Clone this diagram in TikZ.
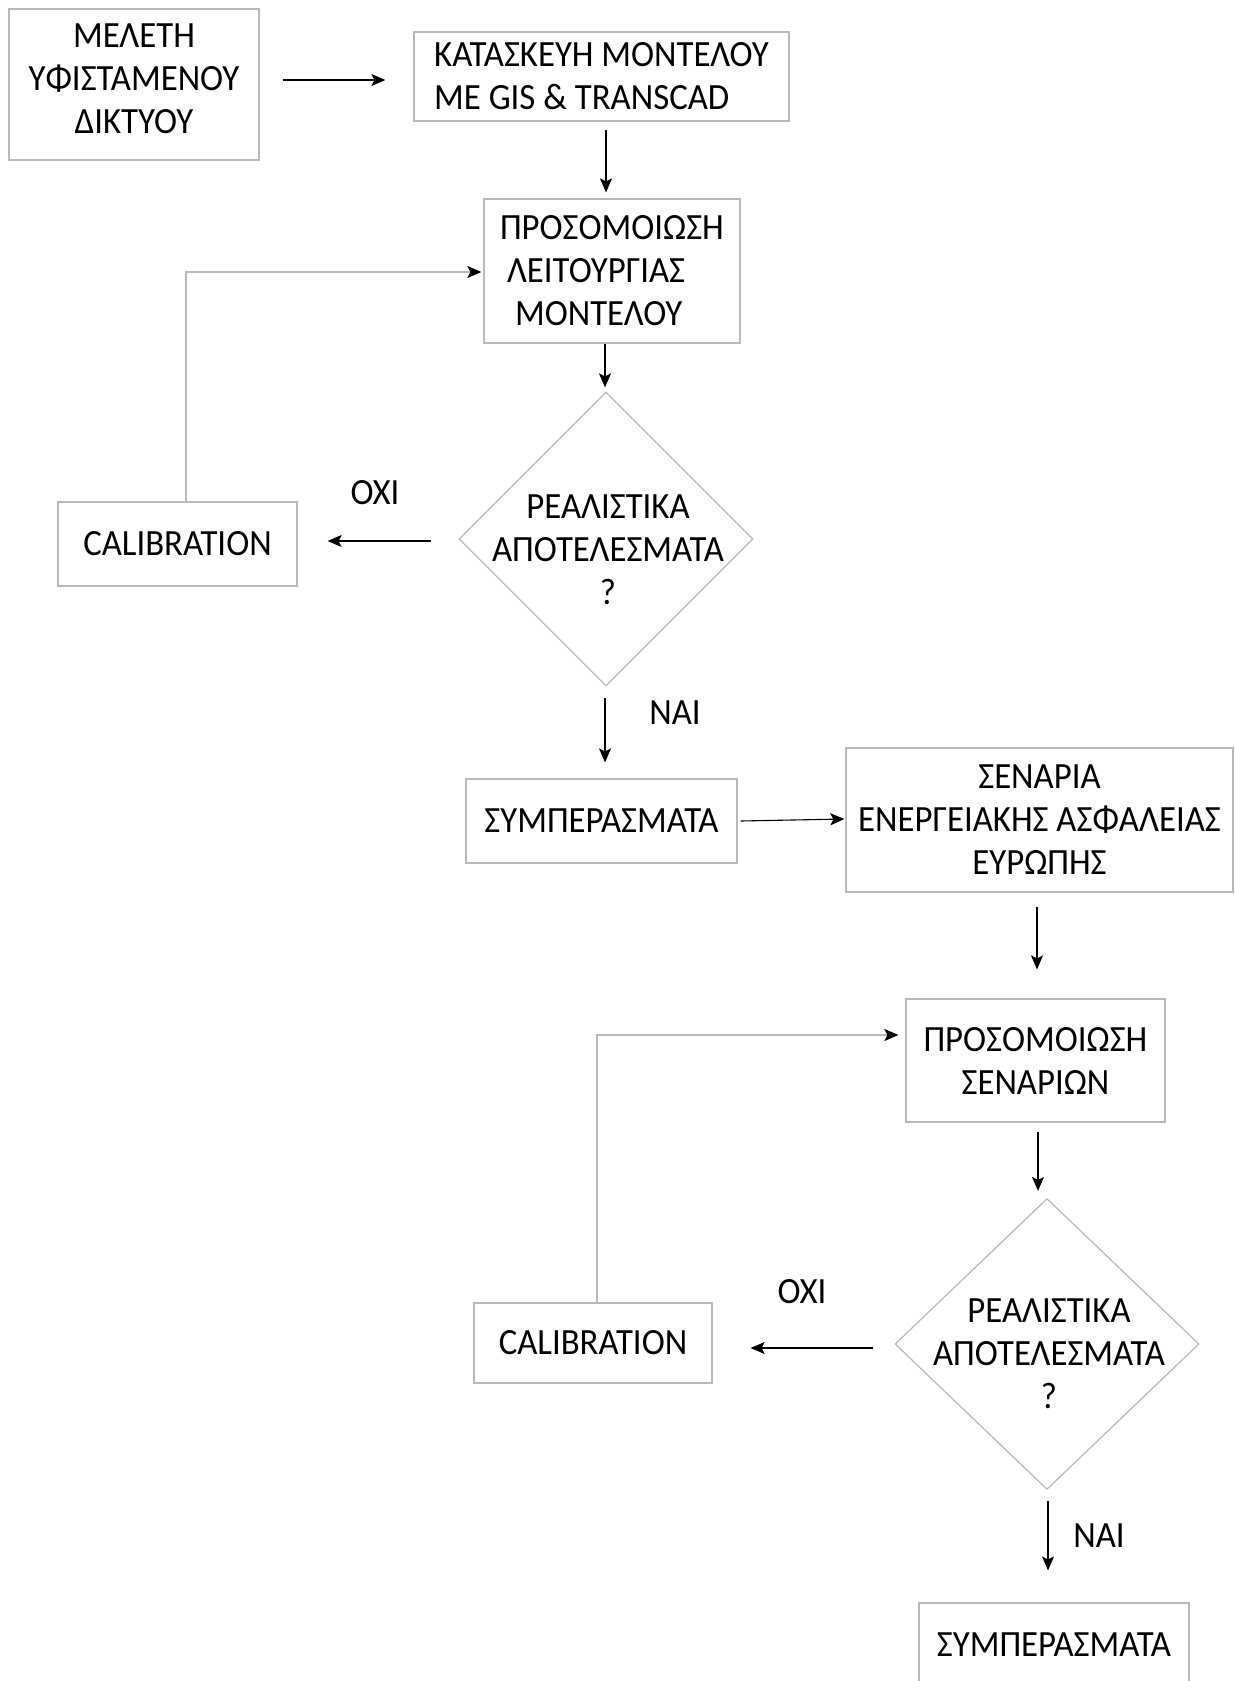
\documentclass[tikz,border=0pt]{standalone}
\usepackage{fontspec}
\setmainfont{Carlito}[FakeStretch=0.94]
\usetikzlibrary{shapes.geometric,arrows.meta}
\begin{document}
\begin{tikzpicture}[x=1pt,y=-1pt,
  box/.style={draw=black!28,line width=1.2pt,rectangle,inner sep=0pt,align=center,
    font=\fontsize{37}{43}\selectfont},
  dia/.style={draw=black!28,line width=1.2pt,diamond,inner sep=0pt},
  txt/.style={inner sep=0pt,align=center,font=\fontsize{37}{43}\selectfont},
  arr/.style={line width=1.1pt,-{Stealth[length=14pt,width=12pt,inset=3pt]}},
  loopline/.style={draw=black!28,line width=1.2pt,-{Stealth[length=14pt,width=12pt,inset=3pt,black]}}
]
\useasboundingbox (0,0) rectangle (1234,1681);
\clip (0,0) rectangle (1234,1681);
% boxes
\node[box,minimum width=250pt,minimum height=151pt,text depth=12pt] (box1) at (134,84.5) {ΜΕΛΕΤΗ\\ΥΦΙΣΤΑΜΕΝΟΥ\\ΔΙΚΤΥΟΥ};
\node[box,minimum width=375pt,minimum height=89pt,align=left] (box2) at (601.5,76.5) {ΚΑΤΑΣΚΕΥΗ ΜΟΝΤΕΛΟΥ\\ΜΕ GIS \& TRANSCAD};
\node[box,minimum width=256pt,minimum height=144pt,align=left] (box3) at (612,271) {ΠΡΟΣΟΜΟΙΩΣΗ\\\hspace*{7pt}ΛΕΙΤΟΥΡΓΙΑΣ\\\hspace*{15pt}ΜΟΝΤΕΛΟΥ};
\node[dia,minimum width=294pt,minimum height=294pt] (dia1) at (606,539) {};
\node[txt] (dia1t) at (608,550) {ΡΕΑΛΙΣΤΙΚΑ\\ΑΠΟΤΕΛΕΣΜΑΤΑ\\?};
\node[box,minimum width=239pt,minimum height=84pt] (cal1) at (177.5,544) {CALIBRATION};
\node[box,minimum width=271pt,minimum height=84pt] (sym1) at (601.5,821) {ΣΥΜΠΕΡΑΣΜΑΤΑ};
\node[box,minimum width=387pt,minimum height=144pt] (sen) at (1039.5,820) {ΣΕΝΑΡΙΑ\\ΕΝΕΡΓΕΙΑΚΗΣ ΑΣΦΑΛΕΙΑΣ\\ΕΥΡΩΠΗΣ};
\node[box,minimum width=259pt,minimum height=123pt] (pros2) at (1035.5,1060.5) {ΠΡΟΣΟΜΟΙΩΣΗ\\ΣΕΝΑΡΙΩΝ};
\node[dia,minimum width=304pt,minimum height=291pt] (dia2) at (1047,1344) {};
\node[txt] (dia2t) at (1049,1354) {ΡΕΑΛΙΣΤΙΚΑ\\ΑΠΟΤΕΛΕΣΜΑΤΑ\\?};
\node[box,minimum width=238pt,minimum height=80pt] (cal2) at (593,1343) {CALIBRATION};
\node[box,minimum width=270pt,minimum height=84pt] (sym2) at (1054,1645) {ΣΥΜΠΕΡΑΣΜΑΤΑ};
% labels
\node[txt] (oxi1) at (375,493) {ΟΧΙ};
\node[txt] (nai1) at (675,713) {ΝΑΙ};
\node[txt] (oxi2) at (802,1292) {ΟΧΙ};
\node[txt] (nai2) at (1099,1536) {ΝΑΙ};
% arrows
\draw[arr] ([xshift=23pt,yshift=4.5pt]box1.east) -- ([xshift=-28pt,yshift=-3.5pt]box2.west);
\draw[arr] ([xshift=4.5pt,yshift=-8pt]box2.south) -- ([xshift=-6pt,yshift=6pt]box3.north);
\draw[arr] ([xshift=-7pt]box3.south) -- ([xshift=-1pt,yshift=4pt]dia1.north);
\draw[arr] ([xshift=-27pt,yshift=-2pt]dia1.west) -- ([xshift=30pt,yshift=3pt]cal1.east);
\draw[loopline] ([xshift=8.5pt]cal1.north) |- ([xshift=-2pt,yshift=-1pt]box3.west);
\draw[arr] ([xshift=-1pt,yshift=-11pt]dia1.south) -- ([xshift=3.5pt,yshift=16pt]sym1.north);
\draw[arr] ([xshift=3pt]sym1.east) -- ([xshift=-1pt,yshift=1pt]sen.west);
\draw[arr] ([xshift=-2.5pt,yshift=-14pt]sen.south) -- ([xshift=1.5pt,yshift=29pt]pros2.north);
\draw[loopline] ([xshift=4pt]cal2.north) |- ([xshift=-7pt,yshift=25.5pt]pros2.west);
\draw[arr] ([xshift=2.5pt,yshift=-9pt]pros2.south) -- ([xshift=-9pt,yshift=7pt]dia2.north);
\draw[arr] ([xshift=-21pt,yshift=-4pt]dia2.west) -- ([xshift=38pt,yshift=-5pt]cal2.east);
\draw[arr] ([xshift=1pt,yshift=-11pt]dia2.south) -- ([xshift=-6pt,yshift=32pt]sym2.north);
\end{tikzpicture}
\end{document}
